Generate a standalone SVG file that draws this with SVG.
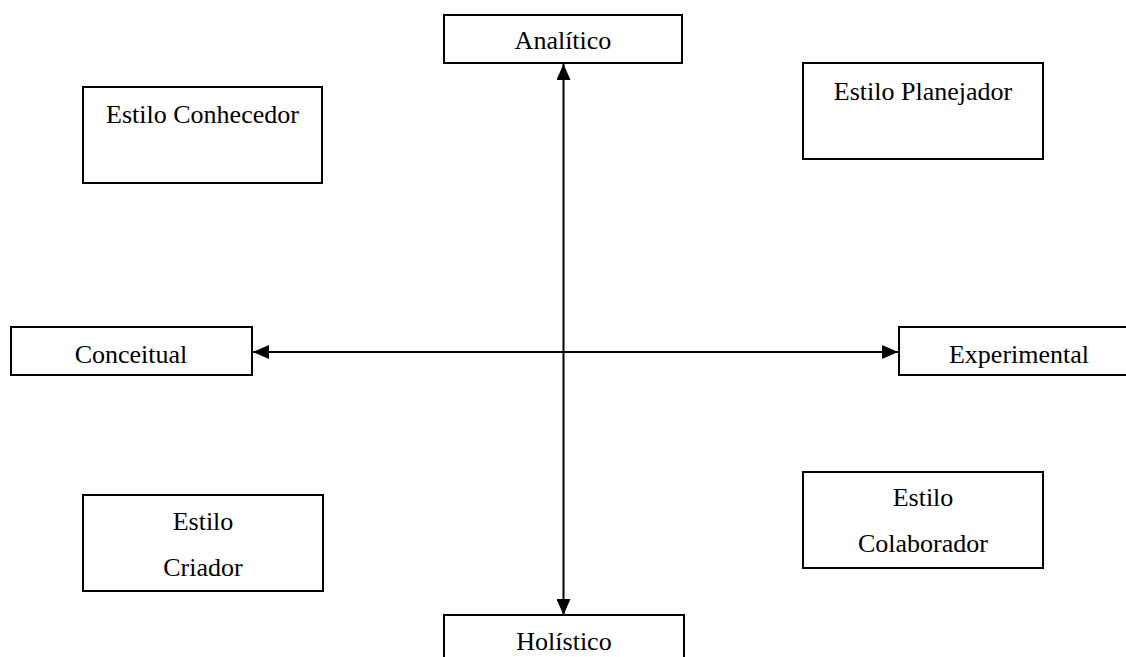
<svg xmlns="http://www.w3.org/2000/svg" width="1126" height="657" viewBox="0 0 1126 657">
<style>
.box{fill:#fff;stroke:#000;stroke-width:2}
.t{font-family:"Liberation Serif","Times New Roman",serif;font-size:26px;fill:#000;text-anchor:middle}
.c{stroke:#000;stroke-width:2;fill:none}
</style>
<defs>
<marker id="ah" markerWidth="16" markerHeight="14" refX="16" refY="7" orient="auto-start-reverse" markerUnits="userSpaceOnUse">
<path d="M0,0 L16,7 L0,14 Z" fill="#000"/>
</marker>
</defs>
<rect width="1126" height="657" fill="#fff"/>
<g id="connectors">
<line class="c" x1="563.5" y1="64" x2="563.5" y2="615" marker-start="url(#ah)" marker-end="url(#ah)"/>
<line class="c" x1="253" y1="352" x2="898" y2="352" marker-start="url(#ah)" marker-end="url(#ah)"/>
</g>
<g id="analitico"><rect class="box" x="444" y="15" width="238" height="48"/><text class="t" x="563" y="49">Analítico</text></g>
<g id="holistico"><rect class="box" x="444" y="615" width="240" height="60"/><text class="t" x="564" y="650">Holístico</text></g>
<g id="conceitual"><rect class="box" x="11" y="327" width="241" height="48"/><text class="t" x="131" y="363">Conceitual</text></g>
<g id="experimental"><rect class="box" x="899" y="327" width="240" height="48"/><text class="t" x="1019" y="363">Experimental</text></g>
<g id="conhecedor"><rect class="box" x="83" y="87" width="239" height="96"/><text class="t" x="202.5" y="123">Estilo Conhecedor</text></g>
<g id="planejador"><rect class="box" x="803" y="63" width="240" height="96"/><text class="t" x="923" y="100">Estilo Planejador</text></g>
<g id="criador"><rect class="box" x="83" y="495" width="240" height="96"/><text class="t" x="203" y="530">Estilo</text><text class="t" x="203" y="576">Criador</text></g>
<g id="colaborador"><rect class="box" x="803" y="472" width="240" height="96"/><text class="t" x="923" y="506">Estilo</text><text class="t" x="923" y="552">Colaborador</text></g>
</svg>
